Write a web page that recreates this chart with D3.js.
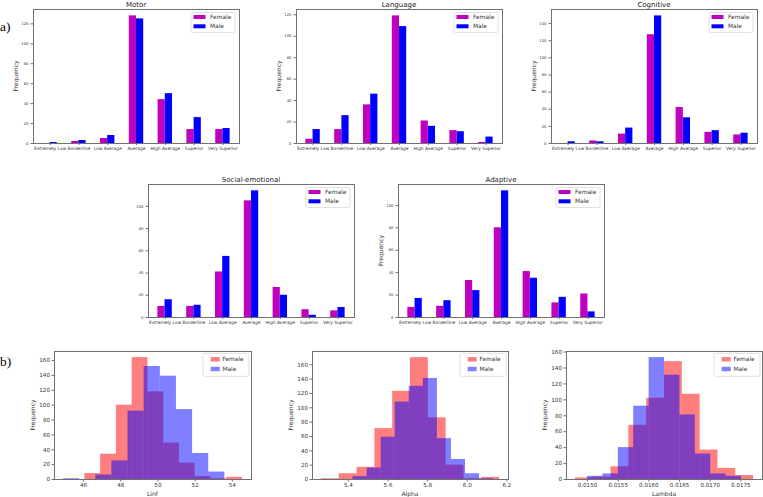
<!DOCTYPE html>
<html><head><meta charset="utf-8">
<script src="https://cdn.jsdelivr.net/npm/d3@7"></script>
<style>body{margin:0;background:#fff;} svg{display:block;font-family:"DejaVu Sans",sans-serif;}</style>
</head><body><svg id="c" width="763" height="497"></svg>
<script>
// ---------- data ----------
const categories = ["Extremely Low","Borderline","Low Average","Average","High Average","Superior","Very Superior"];
const seriesNames = ["Female","Male"];
const motorFemale = [0,2,5,128,44,14,14];
const motorMale = [1,3,8,125,50,26,15];
const languageFemale = [4,13,36,119,21,12,1];
const languageMale = [13,26,46,109,16,11,6];
const cognitiveFemale = [0,3,11,127,42,13,10];
const cognitiveMale = [2,2,18,149,30,15,12];
const socialFemale = [10,10,41,105,27,7,6];
const socialMale = [16,11,55,114,20,2,9];
const adaptiveFemale = [9,10,33,80,41,13,21];
const adaptiveMale = [17,15,24,113,35,18,5];

const linfFemaleCounts = [8,34,100,164,118,49,22,4,1,3];
const linfFemaleRange = [46.07,54.55];
const linfMaleCounts = [1,0,6,25,92,152,139,94,35,10];
const linfMaleRange = [44.92,53.6];
const linfTicks = [46,48,50,52,54];
const alphaFemaleCounts = [1,8,17,71,123,170,86,20,1,3];
const alphaFemaleRange = [5.264,6.163];
const alphaMaleCounts = [4,16,59,108,130,141,57,28,8,1];
const alphaMaleRange = [5.4235,6.133];
const alphaTicks = [5.4,5.6,5.8,6.0,6.2];
const lambdaFemaleCounts = [2,3,16,68,102,148,107,37,14,5];
const lambdaFemaleRange = [0.014803,0.017707];
const lambdaMaleCounts = [4,7,40,92,153,131,81,32,7,4];
const lambdaMaleRange = [0.0150,0.017511];
const lambdaTicks = [0.0150,0.0155,0.0160,0.0165,0.0170,0.0175];

// ---------- drawing ----------
const svg = d3.select("#c");
const spine = "#707070";
const txt = "#333";

function frame(g, w, h){
  g.append("rect").attr("x",0).attr("y",0).attr("width",w).attr("height",h)
    .attr("fill","none").attr("stroke",spine).attr("stroke-width",1).attr("shape-rendering","crispEdges");
}

function barPanel(cfg){
  const {title, female, male, x, y, w, h, ylabel} = cfg;
  const g = svg.append("g").attr("transform",`translate(${x},${y})`);
  const n = categories.length;
  const bw = 0.25;
  const lo = -bw, hi = n-1+bw, pad = (hi-lo)*0.05;
  const xs = d3.scaleLinear().domain([lo-pad, hi+pad]).range([0,w]);
  const ymax = d3.max(female.concat(male))*1.05;
  const ys = d3.scaleLinear().domain([0,ymax]).range([h,0]);
  const data = [female, male];
  const colors = ["#bf00bf","#0000ff"];
  data.forEach((arr,si)=>{
    g.selectAll(null).data(arr).enter().append("rect")
      .attr("x",(d,i)=>xs(i + (si===0 ? -bw : 0)))
      .attr("width",(d,i)=>xs(bw)-xs(0))
      .attr("y",d=>ys(d)).attr("height",d=>h-ys(d))
      .attr("fill",colors[si]);
  });
  // x axis
  const xa = g.append("g").attr("transform",`translate(0,${h})`)
    .call(d3.axisBottom(xs).tickValues(d3.range(n)).tickFormat(i=>categories[i]).tickSize(2).tickPadding(1.5));
  xa.select(".domain").remove();
  xa.selectAll("line").attr("stroke",spine);
  xa.selectAll("text").attr("font-size",4.4).attr("fill",txt).attr("font-family","DejaVu Sans");
  const ya = g.append("g").call(d3.axisLeft(ys).ticks(Math.floor(ymax/20)).tickValues(d3.range(0,ymax,20)).tickSize(2.5).tickPadding(2));
  ya.select(".domain").remove();
  ya.selectAll("line").attr("stroke",spine);
  ya.selectAll("text").attr("font-size",3.8).attr("fill",txt).attr("font-family","DejaVu Sans");
  frame(g,w,h);
  g.append("text").attr("x",w/2).attr("y",-2.5).attr("text-anchor","middle")
    .attr("font-size",7).attr("fill","#222").text(title);
  if(ylabel){
    g.append("text").attr("transform",`translate(-17,${h/2}) rotate(-90)`).attr("text-anchor","middle")
      .attr("font-size",6).attr("fill",txt).attr("dominant-baseline","middle").text("Frequency");
  }
  // legend
  const lw=44, lh=20;
  const lg = g.append("g").attr("transform",`translate(${w-lw-4},${3.5})`);
  lg.append("rect").attr("width",lw).attr("height",lh).attr("fill","#fff").attr("stroke","#ccc").attr("stroke-width",0.6).attr("rx",1.5);
  seriesNames.forEach((s,i)=>{
    lg.append("rect").attr("x",2.5).attr("y",4.5+i*9.3-2).attr("width",12).attr("height",4).attr("fill",colors[i]);
    lg.append("text").attr("x",19).attr("y",4.5+i*9.3).attr("dominant-baseline","middle")
      .attr("font-size",5.9).attr("fill",txt).text(s);
  });
}

function histPanel(cfg){
  const {fc, fr, mc, mr, ticks, fmt, xlabel, x, y, w, h} = cfg;
  const g = svg.append("g").attr("transform",`translate(${x},${y})`);
  const lo = Math.min(fr[0],mr[0]), hi = Math.max(fr[1],mr[1]), pad=(hi-lo)*0.05;
  const xs = d3.scaleLinear().domain([lo-pad,hi+pad]).range([0,w]);
  const ymax = d3.max(fc.concat(mc))*1.05;
  const ys = d3.scaleLinear().domain([0,ymax]).range([h,0]);
  const colors = ["#ff0000","#0000ff"];
  [[fc,fr],[mc,mr]].forEach(([counts,range],si)=>{
    const step = (range[1]-range[0])/counts.length;
    g.selectAll(null).data(counts).enter().append("rect")
      .attr("x",(d,i)=>xs(range[0]+i*step))
      .attr("width",(d,i)=>xs(range[0]+(i+1)*step)-xs(range[0]+i*step))
      .attr("y",d=>ys(d)).attr("height",d=>h-ys(d))
      .attr("fill",colors[si]).attr("fill-opacity",0.5);
  });
  const xa = g.append("g").attr("transform",`translate(0,${h})`)
    .call(d3.axisBottom(xs).tickValues(ticks).tickFormat(d3.format(fmt)).tickSize(2.5).tickPadding(1.5));
  xa.select(".domain").remove();
  xa.selectAll("line").attr("stroke",spine);
  xa.selectAll("text").attr("font-size",5.6).attr("fill",txt).attr("font-family","DejaVu Sans");
  const ya = g.append("g").call(d3.axisLeft(ys).tickValues(d3.range(0,ymax,20)).tickSize(2.5).tickPadding(1.5));
  ya.select(".domain").remove();
  ya.selectAll("line").attr("stroke",spine);
  ya.selectAll("text").attr("font-size",5.6).attr("fill",txt).attr("font-family","DejaVu Sans");
  frame(g,w,h);
  g.append("text").attr("transform",`translate(-20.5,${h/2}) rotate(-90)`).attr("text-anchor","middle")
    .attr("font-size",6).attr("fill",txt).attr("dominant-baseline","middle").text("Frequency");
  g.append("text").attr("x",w/2).attr("y",h+16.5).attr("text-anchor","middle")
    .attr("font-size",6).attr("fill",txt).text(xlabel);
  const lw=46, lh=23;
  const lg = g.append("g").attr("transform",`translate(${w-lw-2},${2.3})`);
  lg.append("rect").attr("width",lw).attr("height",lh).attr("fill","#fff").attr("stroke","#ccc").attr("stroke-width",0.6).attr("rx",1.5);
  seriesNames.forEach((s,i)=>{
    lg.append("rect").attr("x",7.7).attr("y",6-2.2+i*9.7).attr("width",9).attr("height",4.4)
      .attr("fill",colors[i]).attr("fill-opacity",0.5);
    lg.append("text").attr("x",19.4).attr("y",6+i*9.7).attr("dominant-baseline","middle")
      .attr("font-size",5.9).attr("fill",txt).text(s);
  });
}

barPanel({title:"Motor", female:motorFemale, male:motorMale, x:33, y:9, w:206, h:134, ylabel:true});
barPanel({title:"Language", female:languageFemale, male:languageMale, x:296, y:9, w:206, h:134, ylabel:true});
barPanel({title:"Cognitive", female:cognitiveFemale, male:cognitiveMale, x:551, y:9, w:206, h:134, ylabel:true});
barPanel({title:"Social-emotional", female:socialFemale, male:socialMale, x:148, y:184, w:206, h:133, ylabel:false});
barPanel({title:"Adaptive", female:adaptiveFemale, male:adaptiveMale, x:398, y:184, w:206, h:133, ylabel:true});

histPanel({fc:linfFemaleCounts, fr:linfFemaleRange, mc:linfMaleCounts, mr:linfMaleRange, ticks:linfTicks, fmt:"d", xlabel:"Linf", x:54, y:351, w:197, h:128});
histPanel({fc:alphaFemaleCounts, fr:alphaFemaleRange, mc:alphaMaleCounts, mr:alphaMaleRange, ticks:alphaTicks, fmt:".1f", xlabel:"Alpha", x:312, y:351, w:196, h:128});
histPanel({fc:lambdaFemaleCounts, fr:lambdaFemaleRange, mc:lambdaMaleCounts, mr:lambdaMaleRange, ticks:lambdaTicks, fmt:".4f", xlabel:"Lambda", x:566, y:351, w:196, h:128});

svg.append("text").attr("x",0).attr("y",31).attr("font-family","Liberation Serif, serif").attr("font-size",13.5).attr("fill","#000").text("a)");
svg.append("text").attr("x",0).attr("y",365.5).attr("font-family","Liberation Serif, serif").attr("font-size",13.5).attr("fill","#000").text("b)");
</script></body></html>
